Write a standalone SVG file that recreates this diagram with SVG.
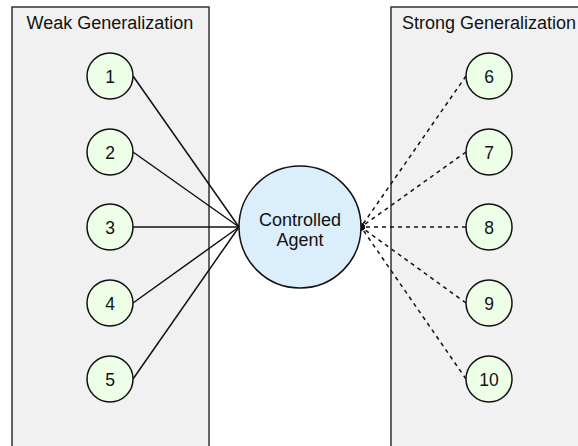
<svg xmlns="http://www.w3.org/2000/svg" width="578" height="446" viewBox="0 0 578 446">
<style>
.box{fill:#f1f1f1;stroke:#333;stroke-width:1.5}
.title{font-family:"Liberation Sans",Arial,sans-serif;font-size:18px;fill:#111}
.node circle{fill:#eeffe8;stroke:#111;stroke-width:1.5}
.node text{font-family:"Liberation Sans",Arial,sans-serif;font-size:17.5px;fill:#111;text-anchor:middle}
#agent circle{fill:#dbeefc;stroke:#111;stroke-width:1.5}
#agent text{font-family:"Liberation Sans",Arial,sans-serif;font-size:18px;fill:#111;text-anchor:middle}
.solid{stroke:#111;stroke-width:1.5;fill:none}
.dash{stroke:#111;stroke-width:1.5;fill:none;stroke-dasharray:4 4}
</style>
<defs>
<marker id="arr" viewBox="0 0 6 6" refX="5" refY="3" markerWidth="3" markerHeight="3" orient="auto-start-reverse" markerUnits="strokeWidth">
<path d="M0,0 L6,3 L0,6 Z" fill="#111"/>
</marker>
</defs>
<rect width="578" height="446" fill="#fff"/>
<g id="weak">
<rect class="box" x="12" y="7" width="197" height="450"/>
<text class="title" x="26.5" y="29">Weak Generalization</text>
</g>
<g id="strong">
<rect class="box" x="391" y="7" width="200" height="450"/>
<text class="title" x="402" y="29">Strong Generalization</text>
</g>
<g id="connectors">
<path class="solid" d="M133,76 L239,227"/>
<path class="solid" d="M133,152 L239,227"/>
<path class="solid" d="M133,227 L239,227"/>
<path class="solid" d="M133,303 L239,227"/>
<path class="solid" d="M133,379 L239,227"/>
<path class="dash" d="M466,76 L361,227" marker-end="url(#arr)"/>
<path class="dash" d="M466,152 L361,227" marker-end="url(#arr)"/>
<path class="dash" d="M466,227 L361,227" marker-end="url(#arr)"/>
<path class="dash" d="M466,303 L361,227" marker-end="url(#arr)"/>
<path class="dash" d="M466,379 L361,227" marker-end="url(#arr)"/>
</g>
<g id="n1" class="node"><circle cx="110" cy="76" r="23"/><text x="110" y="82.5">1</text></g>
<g id="n2" class="node"><circle cx="110" cy="152" r="23"/><text x="110" y="158.5">2</text></g>
<g id="n3" class="node"><circle cx="110" cy="227" r="23"/><text x="110" y="233.5">3</text></g>
<g id="n4" class="node"><circle cx="110" cy="303" r="23"/><text x="110" y="309.5">4</text></g>
<g id="n5" class="node"><circle cx="110" cy="379" r="23"/><text x="110" y="385.5">5</text></g>
<g id="n6" class="node"><circle cx="489" cy="76" r="23"/><text x="489" y="82.5">6</text></g>
<g id="n7" class="node"><circle cx="489" cy="152" r="23"/><text x="489" y="158.5">7</text></g>
<g id="n8" class="node"><circle cx="489" cy="227" r="23"/><text x="489" y="233.5">8</text></g>
<g id="n9" class="node"><circle cx="489" cy="303" r="23"/><text x="489" y="309.5">9</text></g>
<g id="n10" class="node"><circle cx="489" cy="379" r="23"/><text x="489" y="385.5">10</text></g>
<g id="agent"><circle cx="300" cy="227" r="61"/><text x="300" y="225.5">Controlled</text><text x="300" y="245.5">Agent</text></g>
</svg>
